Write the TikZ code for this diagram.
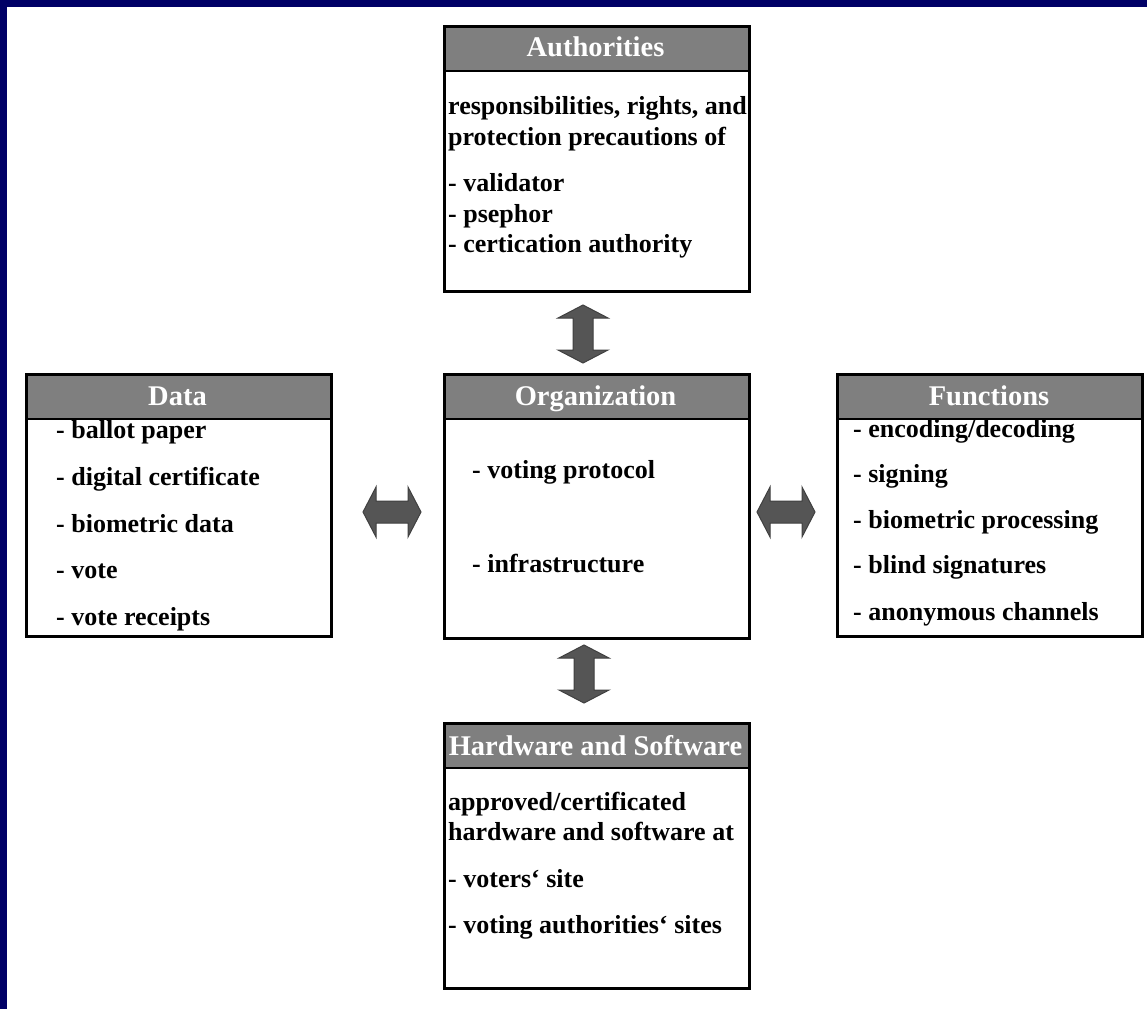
\documentclass[tikz,border=0pt]{standalone}
\usepackage{fontspec}
\setmainfont{Liberation Serif}
\usetikzlibrary{calc}
\definecolor{navyframe}{HTML}{000066}
\definecolor{hdrgray}{HTML}{7F7F7F}
\definecolor{arrowgray}{HTML}{555555}
\newcommand\bxfont{\fontsize{26}{30}\selectfont\bfseries}
\newcommand\hdfont{\fontsize{28.5}{32}\selectfont\bfseries}
\tikzset{
  box/.style={draw=black, line width=2.5pt, fill=white, anchor=north west, inner sep=0pt,
    minimum width=305pt, minimum height=#1,
    path picture={
      \fill[hdrgray] (path picture bounding box.north west) rectangle ([yshift=-45pt]path picture bounding box.north east);
      \draw[line width=2pt] ([yshift=-45pt]path picture bounding box.north west) -- ([yshift=-45pt]path picture bounding box.north east);
    }},
  hd/.style={font=\hdfont, text=white, anchor=base, inner sep=0pt},
  bt/.style={font=\bxfont, text=black, anchor=base west, inner sep=0pt},
  varrow/.pic={\filldraw[fill=arrowgray, draw=black!75, line width=1pt]
    (0,-29) -- (25,-16) -- (10,-16) -- (10,16) -- (25,16) -- (0,29) -- (-25,16) -- (-10,16) -- (-10,-16) -- (-25,-16) -- cycle;},
  harrow/.pic={\filldraw[fill=arrowgray, draw=black!75, line width=1pt]
    (-29,0) -- (-16,-25) -- (-16,-11) -- (16,-11) -- (16,-25) -- (29,0) -- (16,25) -- (16,11) -- (-16,11) -- (-16,25) -- cycle;}
}
\begin{document}
\begin{tikzpicture}[x=1pt, y=-1pt]
  \fill[white] (0,0) rectangle (1147,1009);
  \useasboundingbox (0,0) rectangle (1147,1009);
  \fill[navyframe] (0,0) rectangle (1147,7);
  \fill[navyframe] (0,0) rectangle (7,1009);

  % boxes
  \node[box=265pt] (auth) at (443,25) {};
  \node[box=264pt] (org) at (443,373) {};
  \node[box=262pt] (data) at (25,373) {};
  \node[box=262pt] (func) at (836,373) {};
  \node[box=265pt] (hw) at (443,722) {};

  % headers
  \node[hd] (authh) at (595.5,56) {Authorities};
  \node[hd] (orgh) at (595.5,405) {Organization};
  \node[hd] (datah) at (177.5,405) {Data};
  \node[hd] (funch) at (989,405) {Functions};
  \node[hd] (hwh) at (595.5,755) {Hardware and Software};

  % Authorities body
  \node[bt] (a1) at (448,114) {responsibilities, rights, and};
  \node[bt] (a2) at (448,145) {protection precautions of};
  \node[bt] (a3) at (448,191) {- validator};
  \node[bt] (a4) at (448,222) {- psephor};
  \node[bt] (a5) at (448,252) {- certication authority};

  % Data body
  \node[bt] (d1) at (56,438) {- ballot paper};
  \node[bt] (d2) at (56,485) {- digital certificate};
  \node[bt] (d3) at (56,532) {- biometric data};
  \node[bt] (d4) at (56,578) {- vote};
  \node[bt] (d5) at (56,625) {- vote receipts};

  % Functions body
  \node[bt] (f1) at (853,437) {- encoding/decoding};
  \node[bt] (f2) at (853,482) {- signing};
  \node[bt] (f3) at (853,528) {- biometric processing};
  \node[bt] (f4) at (853,573) {- blind signatures};
  \node[bt] (f5) at (853,620) {- anonymous channels};

  % Organization body
  \node[bt] (o1) at (472,478) {- voting protocol};
  \node[bt] (o2) at (472,572) {- infrastructure};

  % Hardware body
  \node[bt] (h1) at (448,810) {approved/certificated};
  \node[bt] (h2) at (448,840) {hardware and software at};
  \node[bt] (h3) at (448,887) {- voters‘ site};
  \node[bt] (h4) at (448,933) {- voting authorities‘ sites};

  % block arrows
  \pic (arrT) at (583,334) {varrow};
  \pic (arrB) at (584,674) {varrow};
  \pic (arrL) at (392,512) {harrow};
  \pic (arrR) at (786,512) {harrow};
\end{tikzpicture}
\end{document}
